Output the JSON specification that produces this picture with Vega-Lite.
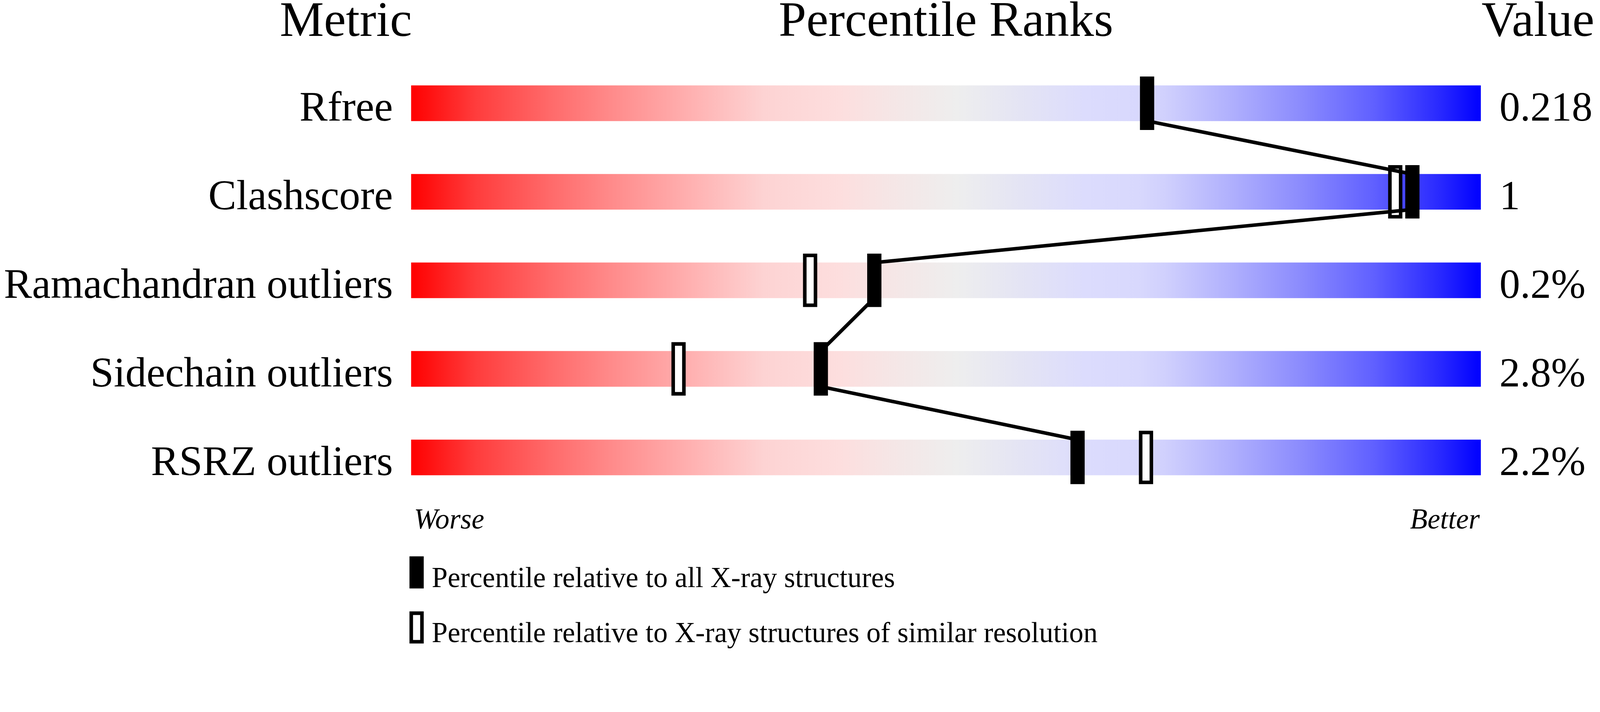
{
  "$schema": "https://vega.github.io/schema/vega-lite/v6.json",
  "width": 4094,
  "height": 1665,
  "autosize": {"type": "none"},
  "padding": 0,
  "background": "white",
  "config": {"view": {"stroke": null}, "text": {"font": "Liberation Serif", "color": "black"}},
  "datasets": {
    "metrics": [
      {"metric": "Rfree", "row": 1, "value": "0.218"},
      {"metric": "Clashscore", "row": 2, "value": "1"},
      {"metric": "Ramachandran outliers", "row": 3, "value": "0.2%"},
      {"metric": "Sidechain outliers", "row": 4, "value": "2.8%"},
      {"metric": "RSRZ outliers", "row": 5, "value": "2.2%"}
    ],
    "markers": [
      {"metric": "Rfree", "row": 1, "type": "all", "p": 68.8},
      {"metric": "Clashscore", "row": 2, "type": "all", "p": 93.6},
      {"metric": "Clashscore", "row": 2, "type": "similar", "p": 92.0},
      {"metric": "Ramachandran outliers", "row": 3, "type": "all", "p": 43.3},
      {"metric": "Ramachandran outliers", "row": 3, "type": "similar", "p": 37.3},
      {"metric": "Sidechain outliers", "row": 4, "type": "all", "p": 38.3},
      {"metric": "Sidechain outliers", "row": 4, "type": "similar", "p": 25.0},
      {"metric": "RSRZ outliers", "row": 5, "type": "all", "p": 62.3},
      {"metric": "RSRZ outliers", "row": 5, "type": "similar", "p": 68.7}
    ],
    "connector": [
      {"o": 1, "metric": "Rfree", "p": 68.8, "edge": 0.8},
      {"o": 2, "metric": "Rfree", "p": 68.8, "edge": 1.2},
      {"o": 3, "metric": "Clashscore", "p": 93.6, "edge": 1.8},
      {"o": 4, "metric": "Clashscore", "p": 93.6, "edge": 2.2},
      {"o": 5, "metric": "Ramachandran outliers", "p": 43.3, "edge": 2.8},
      {"o": 6, "metric": "Ramachandran outliers", "p": 43.3, "edge": 3.2},
      {"o": 7, "metric": "Sidechain outliers", "p": 38.3, "edge": 3.8},
      {"o": 8, "metric": "Sidechain outliers", "p": 38.3, "edge": 4.2},
      {"o": 9, "metric": "RSRZ outliers", "p": 62.3, "edge": 4.8},
      {"o": 10, "metric": "RSRZ outliers", "p": 62.3, "edge": 5.2}
    ]
  },
  "layer": [
    {
      "data": {"name": "metrics"},
      "mark": {
        "type": "bar",
        "orient": "horizontal",
        "height": 91.3,
        "fill": {
          "gradient": "linear", "x1": 0, "y1": 0, "x2": 1, "y2": 0,
          "stops": [
            {"offset": 0, "color": "#ff0000"},
            {"offset": 0.06, "color": "#ff3c3c"},
            {"offset": 0.13, "color": "#ff6a6a"},
            {"offset": 0.19, "color": "#ff8c8c"},
            {"offset": 0.26, "color": "#ffb0b0"},
            {"offset": 0.33, "color": "#fdd3d3"},
            {"offset": 0.40, "color": "#fddede"},
            {"offset": 0.45, "color": "#f5e6e6"},
            {"offset": 0.51, "color": "#eeeeee"},
            {"offset": 0.57, "color": "#e4e4f4"},
            {"offset": 0.63, "color": "#dcdcfd"},
            {"offset": 0.68, "color": "#d8d8fd"},
            {"offset": 0.705, "color": "#d0d0fd"},
            {"offset": 0.77, "color": "#aeaefd"},
            {"offset": 0.83, "color": "#8c8cfd"},
            {"offset": 0.90, "color": "#6060ff"},
            {"offset": 0.96, "color": "#2a2aff"},
            {"offset": 1, "color": "#0000ff"}
          ]
        }
      },
      "encoding": {
        "x": {"datum": 0, "type": "quantitative", "scale": {"domain": [-38.433, 111.067], "nice": false, "zero": false}, "axis": null},
        "x2": {"datum": 100},
        "y": {"field": "row", "type": "quantitative", "scale": {"domain": [-0.144, 7.152], "reverse": true, "nice": false, "zero": false}, "axis": null}
      }
    },
    {
      "data": {"name": "markers"},
      "transform": [{"filter": "datum.type == 'similar'"}],
      "mark": {"type": "point", "shape": "M-0.2143,-1H0.2143V1H-0.2143Z", "size": 16333, "filled": true, "opacity": 1, "stroke": "black", "strokeWidth": 9.1},
      "encoding": {
        "x": {"field": "p", "type": "quantitative", "scale": {"domain": [-38.433, 111.067], "nice": false, "zero": false}, "axis": null},
        "y": {"field": "row", "type": "quantitative", "scale": {"domain": [-0.144, 7.152], "reverse": true, "nice": false, "zero": false}, "axis": null},
        "fill": {
          "field": "type", "type": "nominal",
          "scale": {"domain": ["all", "similar"], "range": ["black", "white"]},
          "legend": {
            "title": null, "orient": "none", "legendX": 1025, "legendY": 1440,
            "symbolType": "M-0.375,-1.4125H0.375V0.5875H-0.375Z", "symbolSize": 5333,
            "symbolStrokeColor": "black", "symbolStrokeWidth": 9.1, "symbolOpacity": 1,
            "labelFont": "Liberation Serif", "labelFontSize": 73, "labelColor": "black",
            "labelLimit": 3000, "labelOffset": -2.7, "rowPadding": 30,
            "labelExpr": "datum.value == 'all' ? 'Percentile relative to all X-ray structures' : 'Percentile relative to X-ray structures of similar resolution'"
          }
        }
      }
    },
    {
      "data": {"name": "connector"},
      "mark": {"type": "line", "color": "black", "strokeWidth": 9.1},
      "encoding": {
        "x": {"field": "p", "type": "quantitative", "scale": {"domain": [-38.433, 111.067], "nice": false, "zero": false}, "axis": null},
        "y": {"field": "edge", "type": "quantitative", "scale": {"domain": [-0.144, 7.152], "reverse": true, "nice": false, "zero": false}, "axis": null},
        "order": {"field": "o", "type": "quantitative"}
      }
    },
    {
      "data": {"name": "markers"},
      "transform": [{"filter": "datum.type == 'all'"}],
      "mark": {"type": "point", "shape": "M-0.2143,-1H0.2143V1H-0.2143Z", "size": 16333, "filled": true, "opacity": 1, "stroke": "black", "strokeWidth": 9.1},
      "encoding": {
        "x": {"field": "p", "type": "quantitative", "scale": {"domain": [-38.433, 111.067], "nice": false, "zero": false}, "axis": null},
        "y": {"field": "row", "type": "quantitative", "scale": {"domain": [-0.144, 7.152], "reverse": true, "nice": false, "zero": false}, "axis": null},
        "fill": {
          "field": "type", "type": "nominal",
          "scale": {"domain": ["all", "similar"], "range": ["black", "white"]},
          "legend": {
            "title": null, "orient": "none", "legendX": 1025, "legendY": 1440,
            "symbolType": "M-0.375,-1.4125H0.375V0.5875H-0.375Z", "symbolSize": 5333,
            "symbolStrokeColor": "black", "symbolStrokeWidth": 9.1, "symbolOpacity": 1,
            "labelFont": "Liberation Serif", "labelFontSize": 73, "labelColor": "black",
            "labelLimit": 3000, "labelOffset": -2.7, "rowPadding": 30,
            "labelExpr": "datum.value == 'all' ? 'Percentile relative to all X-ray structures' : 'Percentile relative to X-ray structures of similar resolution'"
          }
        }
      }
    },
    {
      "data": {"name": "metrics"},
      "mark": {"type": "text", "align": "right", "baseline": "alphabetic", "dx": -46.6, "dy": 44.7, "fontSize": 107.7, "font": "Liberation Serif"},
      "encoding": {
        "x": {"datum": 0, "type": "quantitative", "scale": {"domain": [-38.433, 111.067], "nice": false, "zero": false}, "axis": null},
        "y": {"field": "row", "type": "quantitative", "scale": {"domain": [-0.144, 7.152], "reverse": true, "nice": false, "zero": false}, "axis": null},
        "text": {"field": "metric"}
      }
    },
    {
      "data": {"name": "metrics"},
      "mark": {"type": "text", "align": "left", "baseline": "alphabetic", "dx": 47.5, "dy": 44.7, "fontSize": 105.9, "font": "Liberation Serif"},
      "encoding": {
        "x": {"datum": 100, "type": "quantitative", "scale": {"domain": [-38.433, 111.067], "nice": false, "zero": false}, "axis": null},
        "y": {"field": "row", "type": "quantitative", "scale": {"domain": [-0.144, 7.152], "reverse": true, "nice": false, "zero": false}, "axis": null},
        "text": {"field": "value"}
      }
    },
    {
      "data": {"values": [{"label": "Metric"}]},
      "mark": {"type": "text", "align": "center", "baseline": "alphabetic", "fontSize": 126.9, "font": "Liberation Serif"},
      "encoding": {
        "x": {"datum": -6.1, "type": "quantitative", "scale": {"domain": [-38.433, 111.067], "nice": false, "zero": false}, "axis": null},
        "y": {"datum": 0.24, "type": "quantitative", "scale": {"domain": [-0.144, 7.152], "reverse": true, "nice": false, "zero": false}, "axis": null},
        "text": {"field": "label"}
      }
    },
    {
      "data": {"values": [{"label": "Percentile Ranks"}]},
      "mark": {"type": "text", "align": "center", "baseline": "alphabetic", "fontSize": 126.9, "font": "Liberation Serif"},
      "encoding": {
        "x": {"datum": 50, "type": "quantitative", "scale": {"domain": [-38.433, 111.067], "nice": false, "zero": false}, "axis": null},
        "y": {"datum": 0.24, "type": "quantitative", "scale": {"domain": [-0.144, 7.152], "reverse": true, "nice": false, "zero": false}, "axis": null},
        "text": {"field": "label"}
      }
    },
    {
      "data": {"values": [{"label": "Value"}]},
      "mark": {"type": "text", "align": "left", "baseline": "alphabetic", "dx": 1.8, "fontSize": 126.9, "font": "Liberation Serif"},
      "encoding": {
        "x": {"datum": 100, "type": "quantitative", "scale": {"domain": [-38.433, 111.067], "nice": false, "zero": false}, "axis": null},
        "y": {"datum": 0.24, "type": "quantitative", "scale": {"domain": [-0.144, 7.152], "reverse": true, "nice": false, "zero": false}, "axis": null},
        "text": {"field": "label"}
      }
    },
    {
      "data": {"values": [{"label": "Worse"}]},
      "mark": {"type": "text", "align": "left", "baseline": "alphabetic", "dx": 7.3, "fontSize": 73, "fontStyle": "italic", "font": "Liberation Serif"},
      "encoding": {
        "x": {"datum": 0, "type": "quantitative", "scale": {"domain": [-38.433, 111.067], "nice": false, "zero": false}, "axis": null},
        "y": {"datum": 5.804, "type": "quantitative", "scale": {"domain": [-0.144, 7.152], "reverse": true, "nice": false, "zero": false}, "axis": null},
        "text": {"field": "label"}
      }
    },
    {
      "data": {"values": [{"label": "Better"}]},
      "mark": {"type": "text", "align": "right", "baseline": "alphabetic", "dx": -2.7, "fontSize": 73, "fontStyle": "italic", "font": "Liberation Serif"},
      "encoding": {
        "x": {"datum": 100, "type": "quantitative", "scale": {"domain": [-38.433, 111.067], "nice": false, "zero": false}, "axis": null},
        "y": {"datum": 5.804, "type": "quantitative", "scale": {"domain": [-0.144, 7.152], "reverse": true, "nice": false, "zero": false}, "axis": null},
        "text": {"field": "label"}
      }
    }
  ]
}
